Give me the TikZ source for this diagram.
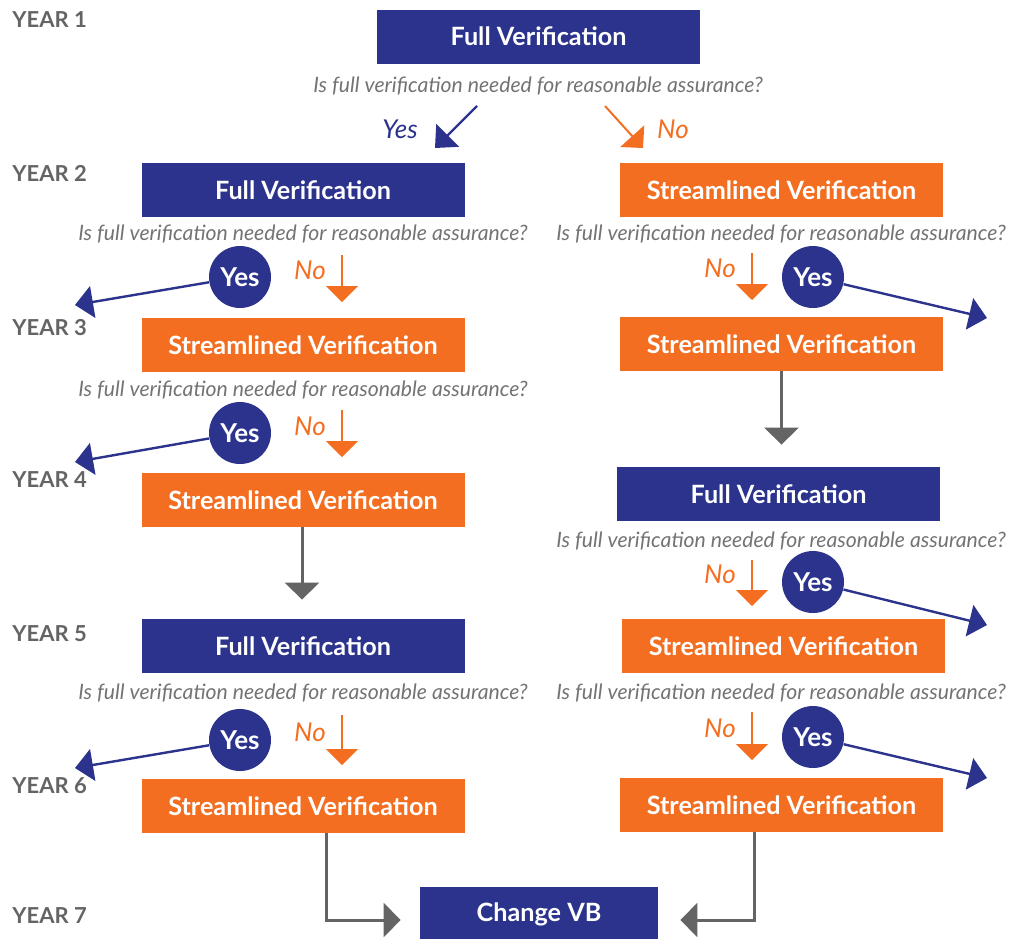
\documentclass[tikz,border=0pt]{standalone}
\usepackage{fontspec}
\setmainfont{Lato}
\usetikzlibrary{arrows.meta,positioning}
\definecolor{fullblue}   {RGB}{ 43, 51,140}
\definecolor{streamorange}{RGB}{243,110, 33}
\definecolor{flowgray}   {RGB}{100,100,100}
\definecolor{asktext}    {RGB}{115,115,115}

\begin{document}
\begin{tikzpicture}[
    x=0.5pt, y=-0.5pt,
    box/.style={rectangle, minimum width=161.5pt, minimum height=27pt, inner sep=0pt, text=white, font=\bfseries\fontsize{12.6}{14}\selectfont},
    full/.style={box, fill=fullblue},
    stream/.style={box, fill=streamorange},
    question/.style={text=asktext, font=\itshape\fontsize{10.6}{12}\selectfont},
    year/.style={anchor=west, inner sep=0pt, text=flowgray, font=\bfseries\fontsize{11}{12}\selectfont},
    yesdot/.style={circle, fill=fullblue, minimum size=31pt, inner sep=0pt, text=white, font=\bfseries\fontsize{13}{14}\selectfont},
    yeslabel/.style={text=fullblue, font=\itshape\fontsize{13}{14}\selectfont},
    nolabel/.style={text=streamorange, font=\itshape\fontsize{13}{14}\selectfont},
    yesarrow/.style={-{Triangle[length=9pt,width=16pt]}, draw=fullblue, line width=1.2pt},
    noarrow/.style={-{Triangle[length=8pt,width=16pt]}, draw=streamorange, line width=1pt},
    nextarrow/.style={-{Triangle[length=8.5pt,width=17pt]}, draw=flowgray, line width=1.5pt}
]
    \useasboundingbox (0,0) rectangle (1011,938);

    % year labels
    \node[year] (yr1) at (12,20)  {YEAR 1};
    \node[year] (yr2) at (12,173) {YEAR 2};
    \node[year] (yr3) at (12,328) {YEAR 3};
    \node[year] (yr4) at (12,480) {YEAR 4};
    \node[year] (yr5) at (12,634) {YEAR 5};
    \node[year] (yr6) at (12,786) {YEAR 6};
    \node[year] (yr7) at (12,916) {YEAR 7};

    % verification boxes
    \node[full]   (f1)  at (538.5,36.5) {Full Verification};
    \node[full]   (f2l) at (303,190)    {Full Verification};
    \node[stream] (s2r) at (781.5,190)  {Streamlined Verification};
    \node[stream] (s3l) at (303,345)    {Streamlined Verification};
    \node[stream] (s3r) at (781.5,344)  {Streamlined Verification};
    \node[stream] (s4l) at (303,500)    {Streamlined Verification};
    \node[full]   (f4r) at (778.5,494)  {Full Verification};
    \node[full]   (f5l) at (303,646)    {Full Verification};
    \node[stream] (s5r) at (783.5,646)  {Streamlined Verification};
    \node[stream] (s6l) at (303,806)    {Streamlined Verification};
    \node[stream] (s6r) at (781.5,805)  {Streamlined Verification};
    \node[full, minimum width=119pt] (vb) at (539,914) {Change VB};

    % questions
    \node[question] (q1)  at (538,86)  {Is full verification needed for reasonable assurance?};
    \node[question] (q2l) at (303,234) {Is full verification needed for reasonable assurance?};
    \node[question] (q2r) at (781,234) {Is full verification needed for reasonable assurance?};
    \node[question] (q3l) at (303,390) {Is full verification needed for reasonable assurance?};
    \node[question] (q4r) at (781,541) {Is full verification needed for reasonable assurance?};
    \node[question] (q5l) at (303,693) {Is full verification needed for reasonable assurance?};
    \node[question] (q5r) at (781,693) {Is full verification needed for reasonable assurance?};

    % year 1 answers
    \coordinate (a1y) at (477,106);
    \coordinate (a1yend) at (435,148);
    \coordinate (a1n) at (605,106);
    \coordinate (a1nend) at (643,148);
    \node[yeslabel] (l1y) at (400,129) {Yes};
    \node[nolabel]  (l1n) at (673,129) {No};
    \draw[yesarrow] (a1y) -- (a1yend);
    \draw[noarrow] (a1n) -- (a1nend);

    % yes circles and their exits
    \node[yesdot] (y2l) at (240,277) {Yes};
    \node[yesdot] (y2r) at (813,277) {Yes};
    \node[yesdot] (y3l) at (240,433) {Yes};
    \node[yesdot] (y4r) at (813,582) {Yes};
    \node[yesdot] (y5l) at (240,740) {Yes};
    \node[yesdot] (y5r) at (813,737) {Yes};
    \coordinate (t2l) at (75,305);
    \coordinate (t2r) at (987,318);
    \coordinate (t3l) at (75,462);
    \coordinate (t4r) at (987,625);
    \coordinate (t5l) at (75,768);
    \coordinate (t5r) at (987,778);
    \draw[yesarrow] (y2l) -- (t2l);
    \draw[yesarrow] (y2r) -- (t2r);
    \draw[yesarrow] (y3l) -- (t3l);
    \draw[yesarrow] (y4r) -- (t4r);
    \draw[yesarrow] (y5l) -- (t5l);
    \draw[yesarrow] (y5r) -- (t5r);

    % no answers
    \node[nolabel] (n2l) at (310,270) {No};
    \node[nolabel] (n2r) at (720,268) {No};
    \node[nolabel] (n3l) at (310,426) {No};
    \node[nolabel] (n4r) at (720,574) {No};
    \node[nolabel] (n5l) at (310,732) {No};
    \node[nolabel] (n5r) at (720,728) {No};
    \draw[noarrow] (342,255) coordinate (d2l) -- (342,302);
    \draw[noarrow] (752,253) coordinate (d2r) -- (752,300);
    \draw[noarrow] (342,410) coordinate (d3l) -- (342,457);
    \draw[noarrow] (752,560) coordinate (d4r) -- (752,606);
    \draw[noarrow] (342,715) coordinate (d5l) -- (342,765);
    \draw[noarrow] (752,712) coordinate (d5r) -- (752,760);

    % next year
    \draw[nextarrow, shorten >=11pt] (s3r.south) -- (s3r.south |- f4r.north);
    \draw[nextarrow, shorten >=9.5pt] ([xshift=-0.5pt]s4l.south) -- ([xshift=-0.5pt]s4l.south |- f5l.north);
    \draw[nextarrow, shorten >=9.5pt] ([xshift=11.5pt]s6l.south) |- ([yshift=-3pt]vb.west);
    \draw[nextarrow, shorten >=11pt] ([xshift=-13.75pt]s6r.south) |- ([yshift=-3pt]vb.east);
\end{tikzpicture}
\end{document}
